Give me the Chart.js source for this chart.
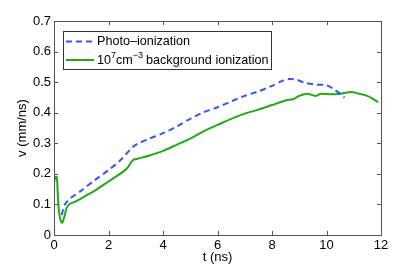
<!DOCTYPE html>
<html>
<head>
<meta charset="utf-8">
<script src="https://cdn.jsdelivr.net/npm/chart.js@4.4.0/dist/chart.umd.min.js"></script>
<style>
  html, body { margin: 0; padding: 0; background: #fff; }
  #wrap { width: 415px; height: 265px; }
</style>
</head>
<body>
<div id="wrap"><canvas id="grafico" width="415" height="265"></canvas></div>
<script>
// tempo (ns) e velocidade (mm/ns)
const photoT = [0.28, 0.4, 0.6, 1.0, 1.5, 2.0, 2.5, 2.8, 3.0, 3.5, 4.0, 4.5, 5.0, 5.5, 6.0, 6.5, 7.0, 7.5, 8.0, 8.4, 8.6, 8.9, 9.2, 9.6, 10.0, 10.3, 10.66];
const photoV = [0.065, 0.1, 0.12, 0.145, 0.18, 0.212, 0.25, 0.28, 0.295, 0.315, 0.333, 0.355, 0.38, 0.402, 0.418, 0.437, 0.455, 0.47, 0.488, 0.505, 0.51, 0.508, 0.498, 0.492, 0.49, 0.475, 0.45];

const bgT = [0, 0.05, 0.1, 0.13, 0.18, 0.25, 0.3, 0.38, 0.45, 0.55, 0.8, 1.0, 1.5, 2.0, 2.5, 2.7, 2.9, 3.1, 3.5, 4.0, 4.5, 5.0, 5.5, 6.0, 6.5, 7.0, 7.5, 8.0, 8.5, 8.8, 9.0, 9.3, 9.6, 9.8, 10.2, 10.5, 10.9, 11.2, 11.5, 11.9];
const bgV = [0.17, 0.19, 0.19, 0.15, 0.08, 0.045, 0.04, 0.06, 0.085, 0.1, 0.11, 0.12, 0.145, 0.175, 0.205, 0.22, 0.245, 0.25, 0.26, 0.275, 0.295, 0.315, 0.34, 0.36, 0.38, 0.397, 0.41, 0.425, 0.44, 0.445, 0.455, 0.462, 0.455, 0.462, 0.46, 0.462, 0.468, 0.462, 0.455, 0.435];

const xTicks = [0, 2, 4, 6, 8, 10, 12];
const yTicks = [0, 0.1, 0.2, 0.3, 0.4, 0.5, 0.6, 0.7];

const corAzul = '#3355ff';
const corVerde = '#22aa14';
const corEixo = '#555';
const fonte = 'Liberation Sans, Arial, Helvetica, sans-serif';
const tam = 13;

const toPts = (ts, vs) => ts.map((t, i) => ({ x: t, y: vs[i] }));

// caixa, ticks para dentro e legenda no estilo matlab
const estiloMatlab = {
    id: 'estiloMatlab',
    afterDraw(chart) {
        const { ctx, chartArea: a, scales } = chart;
        ctx.save();
        ctx.strokeStyle = corEixo;
        ctx.lineWidth = 1;
        ctx.strokeRect(Math.round(a.left) + 0.5, Math.round(a.top) + 0.5,
            Math.round(a.right - a.left), Math.round(a.bottom - a.top));
        const tl = 4;
        ctx.beginPath();
        xTicks.forEach(v => {
            const px = Math.round(scales.x.getPixelForValue(v)) + 0.5;
            ctx.moveTo(px, a.bottom); ctx.lineTo(px, a.bottom - tl);
            ctx.moveTo(px, a.top); ctx.lineTo(px, a.top + tl);
        });
        yTicks.forEach(v => {
            const py = Math.round(scales.y.getPixelForValue(v)) + 0.5;
            ctx.moveTo(a.left, py); ctx.lineTo(a.left + tl, py);
            ctx.moveTo(a.right, py); ctx.lineTo(a.right - tl, py);
        });
        ctx.stroke();

        // legenda
        const lx = 63.5, ly = 31.5, lw = 208, lh = 38;
        ctx.fillStyle = '#fff';
        ctx.fillRect(lx, ly, lw, lh);
        ctx.strokeStyle = '#333';
        ctx.strokeRect(lx, ly, lw, lh);

        ctx.lineWidth = 2;
        ctx.strokeStyle = corAzul;
        ctx.setLineDash([6, 4]);
        ctx.beginPath(); ctx.moveTo(66, 41.5); ctx.lineTo(94, 41.5); ctx.stroke();
        ctx.setLineDash([]);
        ctx.strokeStyle = corVerde;
        ctx.beginPath(); ctx.moveTo(66, 60); ctx.lineTo(94, 60); ctx.stroke();

        const fg = '12.6px ' + fonte, fp = '9px ' + fonte;
        ctx.fillStyle = '#000';
        ctx.textBaseline = 'middle';
        ctx.font = fg;
        ctx.fillText('Photo\u2013ionization', 97, 42);
        let x = 97;
        ctx.fillText('10', x, 61);
        x += ctx.measureText('10').width;
        ctx.font = fp;
        ctx.fillText('7', x, 55.5);
        x += ctx.measureText('7').width;
        ctx.font = fg;
        ctx.fillText('cm', x, 61);
        x += ctx.measureText('cm').width;
        ctx.font = fp;
        ctx.fillText('\u22123', x, 55.5);
        x += ctx.measureText('\u22123').width + 3;
        ctx.font = fg;
        ctx.fillText('background ionization', x, 61);
        ctx.restore();
    }
};

new Chart(document.getElementById('grafico').getContext('2d'), {
    type: 'line',
    data: {
        datasets: [
            {
                label: 'Photo-ionization',
                data: toPts(photoT, photoV),
                borderColor: corAzul,
                borderWidth: 2,
                borderDash: [6, 4],
                pointRadius: 0,
                tension: 0.3,
                fill: false
            },
            {
                label: '10^7 cm^-3 background ionization',
                data: toPts(bgT, bgV),
                borderColor: corVerde,
                borderWidth: 2,
                pointRadius: 0,
                tension: 0.3,
                fill: false
            }
        ]
    },
    options: {
        responsive: false,
        animation: false,
        layout: { padding: { left: 0, top: 21, right: 34, bottom: 0 } },
        plugins: { legend: { display: false }, tooltip: { enabled: false } },
        scales: {
            x: {
                type: 'linear',
                min: 0, max: 12,
                afterBuildTicks: s => { s.ticks = xTicks.map(v => ({ value: v })); },
                afterFit: s => { s.height = 30; },
                grid: { display: false, drawTicks: false },
                border: { display: false },
                ticks: { padding: 3, color: '#000', font: { family: fonte, size: tam }, maxRotation: 0 },
                title: { display: true, text: 't (ns)', color: '#000', font: { family: fonte, size: tam }, padding: { top: 0, bottom: 0 } }
            },
            y: {
                type: 'linear',
                min: 0, max: 0.7,
                afterBuildTicks: s => { s.ticks = yTicks.map(v => ({ value: v })); },
                afterFit: s => { s.width = 54; },
                grid: { display: false, drawTicks: false },
                border: { display: false },
                ticks: { padding: 3, color: '#000', font: { family: fonte, size: tam }, callback: v => String(+v.toFixed(1)) },
                title: { display: true, text: 'v (mm/ns)', color: '#000', font: { family: fonte, size: tam }, padding: { top: 15, bottom: 0 } }
            }
        }
    },
    plugins: [estiloMatlab]
});
</script>
</body>
</html>
